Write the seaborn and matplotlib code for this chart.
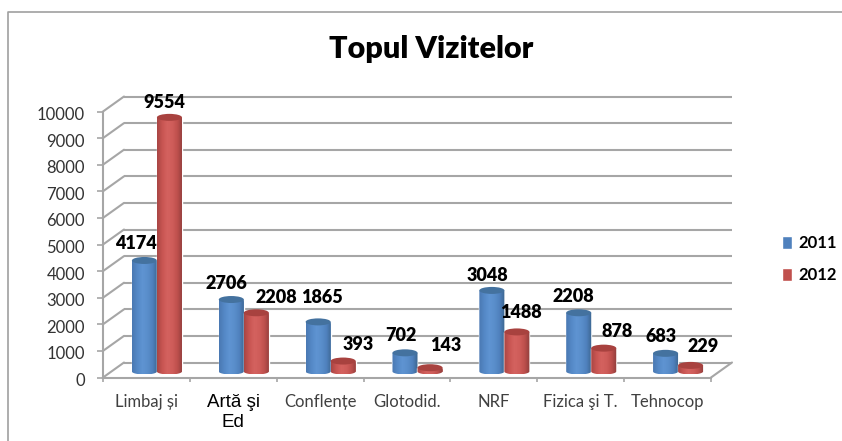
import numpy as np
import pandas as pd
import matplotlib
matplotlib.use("Agg")
import matplotlib.pyplot as plt
import seaborn as sns
from matplotlib.colors import LinearSegmentedColormap
from matplotlib.lines import Line2D
from matplotlib.patches import Ellipse, Polygon
from matplotlib.transforms import Affine2D, ScaledTranslation

# chart values
categories = ["Limbaj și", "Artă şi\nEd", "Conflențe", "Glotodid.", "NRF", "Fizica şi T.", "Tehnocop"]
years = ["2011", "2012"]
visits_2011 = [4174, 2706, 1865, 702, 3048, 2208, 683]
visits_2012 = [9554, 2208, 393, 143, 1488, 878, 229]

# label nudges in pixels (dx, dy) from the top of each bar
nudge_2011 = [(-8, 17), (-5, 16), (4, 24), (-4, 17), (-4, 15), (-5, 16), (-5, 17)]
nudge_2012 = [(-5, 15), (20, 15), (15, 17), (16, 22), (4, 19), (13, 17), (13, 19)]

df = pd.DataFrame({
    "cat": categories * 2,
    "year": [years[0]] * 7 + [years[1]] * 7,
    "visits": visits_2011 + visits_2012,
})

sns.set_theme(style="white")
plt.rcParams["font.family"] = ["Lato", "DejaVu Sans"]

W, H = 842, 441
fig = plt.figure(figsize=(W / 100, H / 100), dpi=100)
ax = fig.add_axes([103 / W, (H - 377.5) / H, 608 / W, 266 / H])

blue, red = "#4f81bd", "#c0504d"
sns.barplot(data=df, x="cat", y="visits", hue="year", palette=[blue, red],
            width=0.576, gap=0, saturation=1, ax=ax, zorder=3)

PX_X = 7 / 608
PX_Y = 10000 / 266
GREY = "#a6a6a6"

# back wall and side wall of the fake 3d box
DX, DY = 21 * PX_X, 15 * PX_Y
levels = np.arange(0, 10001, 1000)
ax.hlines(levels + DY, -0.5 + DX, 6.5 + DX, color=GREY, lw=1.5, clip_on=False, zorder=1)
for lv in levels:
    ax.plot([-0.5, -0.5 + DX], [lv, lv + DY], color=GREY, lw=1.5, clip_on=False, zorder=1)
ax.plot([6.5, 6.5 + DX], [0, DY], color=GREY, lw=1.5, clip_on=False, zorder=1)

# bars stand in the middle of the box depth
shift = Affine2D().translate(10.5 * PX_X, 6 * PX_Y) + ax.transData

cmaps = {
    0: LinearSegmentedColormap.from_list("b", ["#4a79b2", "#5488c6", "#5f94d2", "#5a8ecb", "#4f81bd", "#3c658f"]),
    1: LinearSegmentedColormap.from_list("r", ["#a84644", "#c85552", "#d4625f", "#cf5d5a", "#bd4f4c", "#8f3e3c"]),
}
caps = {0: "#44729f", 1: "#a8423f"}
ramp = np.linspace(0, 1, 64)[None, :]

z = 4
for i, (bars, nudges) in enumerate(zip(ax.containers[:2], [nudge_2011, nudge_2012])):
    for bar, (nx, ny) in zip(bars, nudges):
        x0, w, v = bar.get_x(), bar.get_width(), bar.get_height()
        xc = x0 + w / 2
        bar.set_transform(shift)
        bar.set_clip_on(False)
        bar.set_zorder(z)

        # body outline with rounded underside
        t = np.linspace(np.pi, 2 * np.pi, 40)
        under = np.c_[xc + w / 2 * np.cos(t), 3 * PX_Y * np.sin(t)]
        outline = np.vstack([under, [x0 + w, v], [x0, v]])
        body = ax.imshow(ramp, cmap=cmaps[i], aspect="auto", zorder=z + 0.1,
                         extent=(x0, x0 + w, -3 * PX_Y, v), transform=shift)
        body.set_clip_path(Polygon(outline, closed=True, transform=shift))

        ax.add_patch(Ellipse((xc, v), w, 7 * PX_Y, facecolor=caps[i], edgecolor="none",
                             transform=shift, clip_on=False, zorder=z + 0.2))
        ax.annotate(str(int(v)), xy=(xc, v), xycoords=shift, xytext=(nx, ny), textcoords="offset pixels",
                    ha="center", va="center", fontsize=13, fontweight=800, color="black",
                    annotation_clip=False, zorder=30)
        z += 1

ax.set_xlim(-0.5, 6.5)
ax.set_ylim(0, 10000)
ax.set_xlabel("")
ax.set_ylabel("")
ax.set_yticks(levels)
ax.set_xticks(np.arange(7))
ax.set_xticklabels(categories)
ax.set_xticks(np.arange(-0.5, 7), minor=True)

for side in ["top", "right"]:
    ax.spines[side].set_visible(False)
for side in ["left", "bottom"]:
    ax.spines[side].set_color(GREY)
    ax.spines[side].set_linewidth(1.5)

ax.tick_params(axis="y", left=True, length=4.5, width=1.2, color=GREY, pad=8.5, labelsize=12, labelcolor="#333333")
ax.tick_params(axis="x", which="major", bottom=False, length=0, pad=12, labelsize=12, labelcolor="#404040")
ax.tick_params(axis="x", which="minor", bottom=True, length=3, width=1.2, color=GREY)
for lab in ax.get_yticklabels():
    lab.set_transform(lab.get_transform() + ScaledTranslation(0, -2 / 100, fig.dpi_scale_trans))
for lab in ax.get_xticklabels():
    lab.set_va("top")
    if lab.get_text().startswith("Artă"):
        lab.set_family("Liberation Sans")
        lab.set_fontsize(13.5)
        lab.set_color("black")

handles, labels = ax.get_legend_handles_labels()
ax.legend(handles, labels, loc="center left", bbox_to_anchor=(767 / W, (H - 259) / H),
          bbox_transform=fig.transFigure, frameon=False, prop={"family": "Lato", "weight": "bold", "size": 12},
          handlelength=0.62, handleheight=0.85, handletextpad=0.35, labelspacing=0.95, labelcolor="black")

fig.text(431 / W, 1 - 49 / H, "Topul Vizitelor", ha="center", va="center",
         fontsize=22, fontweight=800, color="black")

# outer chart frame, only the left and top show
fig.add_artist(Line2D([7.5 / W, 7.5 / W, 1], [0, 1 - 12 / H, 1 - 12 / H], color="#a0a0a0", lw=1.2,
                      transform=fig.transFigure))

fig.savefig("out.png", dpi=100)
